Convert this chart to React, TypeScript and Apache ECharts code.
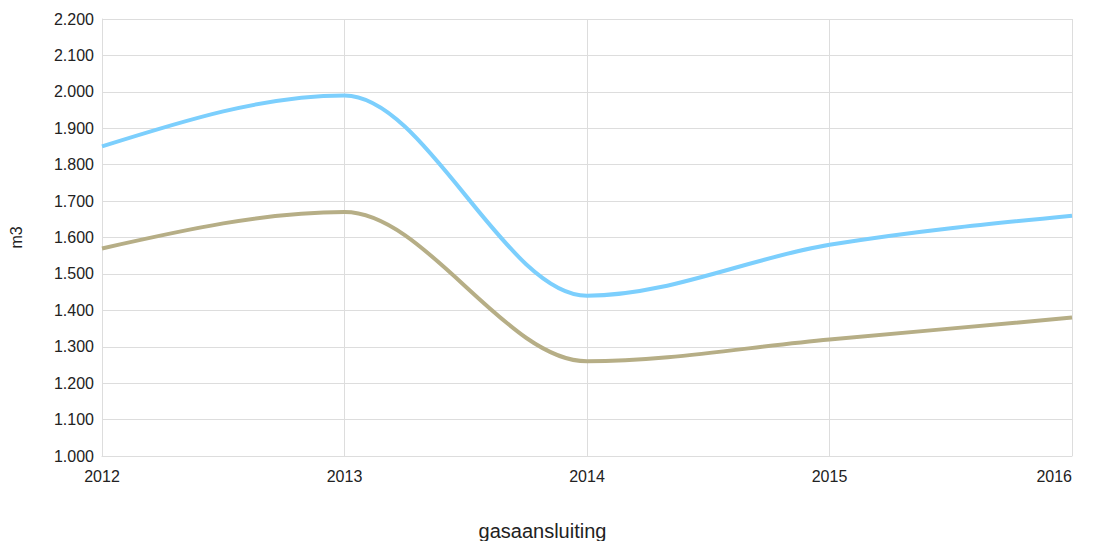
import React, { useEffect, useRef } from "react";
import * as echarts from "echarts";

const years = ["2012", "2013", "2014", "2015", "2016"];
const seriesBlue = [1850, 1990, 1440, 1580, 1660];
const seriesOlive = [1570, 1670, 1260, 1320, 1380];

const fmt = (v: number) => {
  const t = Math.floor(v / 1000);
  const r = String(Math.round(v % 1000)).padStart(3, "0");
  return t + "." + r;
};

// monotone cubic (Fritsch–Carlson, as d3.curveMonotoneX) path through pixel points
function monotonePath(pts: number[][]): string {
  const n = pts.length;
  if (n < 2) return "";
  const sgn = (v: number) => (v < 0 ? -1 : 1);
  const t: number[] = new Array(n).fill(0);
  for (let i = 1; i < n - 1; i++) {
    const h0 = pts[i][0] - pts[i - 1][0];
    const h1 = pts[i + 1][0] - pts[i][0];
    const s0 = (pts[i][1] - pts[i - 1][1]) / h0;
    const s1 = (pts[i + 1][1] - pts[i][1]) / h1;
    const p = (s0 * h1 + s1 * h0) / (h0 + h1);
    t[i] = (sgn(s0) + sgn(s1)) * Math.min(Math.abs(s0), Math.abs(s1), 0.5 * Math.abs(p)) || 0;
  }
  {
    const h = pts[1][0] - pts[0][0];
    t[0] = (3 * (pts[1][1] - pts[0][1]) / h - t[1]) / 2;
    const hl = pts[n - 1][0] - pts[n - 2][0];
    t[n - 1] = (3 * (pts[n - 1][1] - pts[n - 2][1]) / hl - t[n - 2]) / 2;
  }
  let d = `M${pts[0][0]},${pts[0][1]}`;
  for (let i = 0; i < n - 1; i++) {
    const [x0, y0] = pts[i];
    const [x1, y1] = pts[i + 1];
    const dx = (x1 - x0) / 3;
    d += ` C${x0 + dx},${y0 + dx * t[i]} ${x1 - dx},${y1 - dx * t[i + 1]} ${x1},${y1}`;
  }
  return d;
}

function curveSeries(values: number[], color: string) {
  return {
    type: "custom",
    data: values.map((v, i) => [i, v]),
    encode: { x: 0, y: 1 },
    clip: false,
    renderItem: (params: any, api: any) => {
      if (params.dataIndex !== 0) return null;
      const pts = values.map((v, i) => api.coord([i, v]));
      return {
        type: "path",
        shape: { pathData: monotonePath(pts) },
        style: { fill: "none", stroke: color, lineWidth: 4 },
      };
    },
  };
}

export default function App() {
  const ref = useRef<HTMLDivElement>(null);
  useEffect(() => {
    document.body.style.margin = "0";
    const chart = echarts.init(ref.current!, undefined, { renderer: "svg" });
    const font = "Liberation Sans, Arial, sans-serif";
    chart.setOption({
      animation: false,
      grid: { left: 102, right: 23, top: 19, bottom: 85, containLabel: false, outerBoundsMode: "none" },
      xAxis: {
        type: "category",
        data: years,
        boundaryGap: false,
        name: "gasaansluiting",
        nameLocation: "middle",
        nameGap: 65,
        nameTextStyle: { fontFamily: font, fontSize: 20, color: "#222", padding: [0, 89, 0, 0] },
        axisLine: { lineStyle: { color: "#dddddd" } },
        axisTick: { show: false },
        axisLabel: { fontFamily: font, fontSize: 16, color: "#222", margin: 12, alignMaxLabel: "right" },
        splitLine: { show: true, lineStyle: { color: "#dddddd" } },
      },
      yAxis: {
        type: "value",
        min: 1000,
        max: 2200,
        interval: 100,
        name: "m3",
        nameLocation: "middle",
        nameRotate: 90,
        nameGap: 78,
        nameTextStyle: { fontFamily: font, fontSize: 16, color: "#222" },
        axisLine: { show: true, lineStyle: { color: "#dddddd" } },
        axisTick: { show: false },
        axisLabel: { fontFamily: font, fontSize: 16, color: "#222", margin: 8, formatter: fmt },
        splitLine: { show: true, lineStyle: { color: "#dddddd" } },
      },
      series: [curveSeries(seriesBlue, "#7ccffd"), curveSeries(seriesOlive, "#b6ae86")],
    });
    return () => chart.dispose();
  }, []);
  return <div ref={ref} style={{ width: 1095, height: 541 }} />;
}
